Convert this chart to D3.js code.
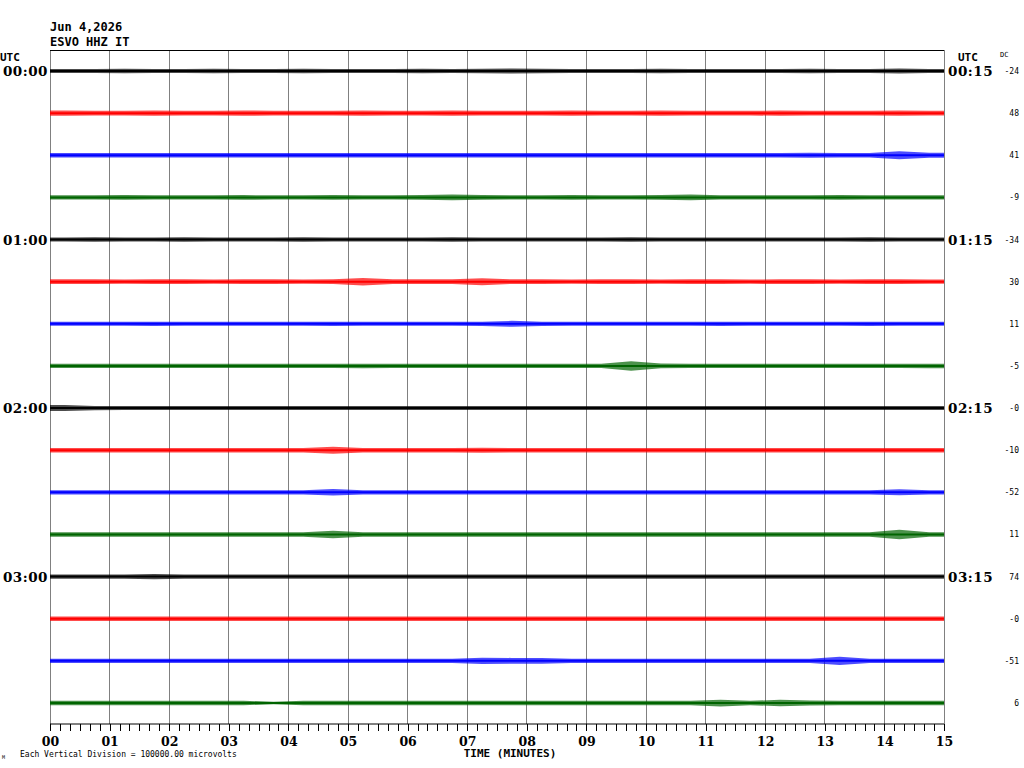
<!DOCTYPE html>
<html>
<head>
<meta charset="utf-8">
<script src="https://cdn.jsdelivr.net/npm/d3@7"></script>
<style>
  body { margin: 0; background: #fff; }
  svg { display: block; }
</style>
</head>
<body>
<div id="graph"></div>
<script>
// header / labels
let dateLabel = "Jun 4,2026";
let stationLabel = "ESVO HHZ IT";
let leftTimes = ["00:00", "01:00", "02:00", "03:00"];
let rightTimes = ["00:15", "01:15", "02:15", "03:15"];
let dcValues = ["-24", "48", "41", "-9", "-34", "30", "11", "-5", "-0", "-10", "-52", "11", "74", "-0", "-51", "6"];
let minuteLabels = ["00", "01", "02", "03", "04", "05", "06", "07", "08", "09", "10", "11", "12", "13", "14", "15"];
let traceColors = ["#000000", "#ff0000", "#0000ff", "#006400"];

// envelope amplitude of each trace, one value per 30 s
let amp00 = [1.5,1.5,1.6,1.5,1.5,1.6,1.5,1.5,1.6,1.5,1.5,1.5,1.6,1.5,1.6,1.8,1.7,1.5,1.5,1.5,1.6,1.5,1.5,1.5,1.5,1.6,1.5,1.5,1.8,1.5];
let amp01 = [1.9,1.8,1.8,1.9,1.8,1.8,1.9,1.8,1.8,1.8,1.9,1.8,1.8,1.9,1.8,1.8,1.8,1.9,1.8,1.8,1.9,1.8,1.8,1.8,1.9,1.8,1.8,1.8,1.9,1.8];
let amp02 = [1.7,1.6,1.7,1.6,1.6,1.7,1.6,1.6,1.7,1.6,1.6,1.6,1.7,1.6,1.6,1.7,1.6,1.6,1.7,1.6,1.6,1.6,1.7,1.6,1.7,1.9,1.6,1.7,3.0,1.8];
let amp03 = [1.6,1.6,1.7,1.6,1.6,1.6,1.7,1.6,1.6,1.7,1.6,1.6,1.7,2.2,1.7,1.6,1.6,1.7,1.6,1.6,1.7,2.2,1.6,1.6,1.6,1.6,1.7,1.6,1.6,1.6];
let amp04 = [1.5,1.6,1.5,1.5,1.6,1.5,1.5,1.5,1.6,1.5,1.5,1.5,1.5,1.6,1.5,1.5,1.5,1.5,1.5,1.6,1.5,1.5,1.5,1.5,1.5,1.5,1.5,1.6,1.5,1.5];
let amp05 = [1.7,1.7,1.6,1.7,1.7,1.6,1.7,1.7,1.6,1.7,2.8,1.7,1.7,1.7,2.6,1.7,1.7,1.6,1.7,1.7,1.6,1.7,1.7,1.6,1.7,1.7,1.6,1.7,1.7,1.6];
let amp06 = [1.5,1.5,1.5,1.6,1.5,1.5,1.5,1.5,1.5,1.6,1.5,1.5,1.5,1.5,1.6,2.2,1.6,1.5,1.5,1.5,1.5,1.5,1.6,1.5,1.5,1.5,1.5,1.6,1.5,1.5];
let amp07 = [1.6,1.6,1.6,1.6,1.6,1.6,1.6,1.6,1.6,1.6,1.7,1.6,1.6,1.6,1.6,1.6,1.6,1.6,1.6,3.5,1.8,1.6,1.6,1.6,1.6,1.6,1.6,1.6,1.6,1.7];
let amp08 = [2.2,1.6,1.5,1.5,1.5,1.5,1.5,1.5,1.5,1.5,1.5,1.5,1.5,1.5,1.5,1.5,1.5,1.5,1.5,1.5,1.5,1.5,1.5,1.5,1.5,1.5,1.5,1.5,1.5,1.5];
let amp09 = [1.7,1.7,1.7,1.7,1.7,1.7,1.7,1.7,1.7,2.6,1.7,1.7,1.7,1.7,1.8,1.7,1.7,1.7,1.7,1.7,1.7,1.7,1.7,1.7,1.7,1.7,1.7,1.7,1.7,1.7];
let amp10 = [1.6,1.6,1.6,1.6,1.6,1.6,1.6,1.6,1.6,2.4,1.6,1.6,1.6,1.6,1.6,1.6,1.6,1.6,1.6,1.6,1.6,1.6,1.6,1.6,1.6,1.6,1.6,1.6,2.2,1.6];
let amp11 = [1.6,1.6,1.6,1.6,1.6,1.6,1.6,1.6,1.6,2.8,1.6,1.6,1.6,1.6,1.6,1.6,1.6,1.6,1.6,1.7,1.6,1.6,1.6,1.6,1.6,1.6,1.6,1.6,3.5,1.6];
let amp12 = [1.6,1.6,1.6,2.0,1.6,1.6,1.6,1.6,1.6,1.6,1.6,1.6,1.6,1.6,1.6,1.6,1.6,1.6,1.6,1.6,1.6,1.6,1.6,1.6,1.6,1.6,1.6,1.6,1.6,1.6];
let amp13 = [1.7,1.7,1.7,1.7,1.7,1.7,1.7,1.7,1.7,1.7,1.7,1.7,1.7,1.7,1.7,1.7,1.7,1.7,1.7,1.7,1.7,1.7,1.7,1.7,1.7,1.7,1.7,1.7,1.7,1.7];
let amp14 = [1.6,1.6,1.6,1.6,1.6,1.6,1.6,1.6,1.6,1.6,1.6,1.6,1.6,1.6,2.4,2.2,2.2,1.6,1.6,1.6,1.6,1.6,1.6,1.6,1.6,1.6,3.0,1.6,1.6,1.6];
let amp15 = [1.6,1.6,1.6,1.6,1.6,1.6,1.6,1.0,1.6,1.6,1.6,1.6,1.6,1.6,1.6,1.6,1.6,1.6,1.6,1.6,1.6,1.6,2.5,1.6,2.4,1.8,1.6,1.6,1.6,1.6];
let traces = [amp00, amp01, amp02, amp03, amp04, amp05, amp06, amp07, amp08, amp09, amp10, amp11, amp12, amp13, amp14, amp15];

let svgWidth = 1024, svgHeight = 768;
let plotLeft = 50, plotRight = 944, plotTop = 50, plotBottom = 724;

let xScale = d3.scaleLinear().domain([0, 15]).range([plotLeft, plotRight]);
let yScale = d3.scaleLinear().domain([0, 15]).range([71, 703]);
// amplitude units -> pixels
let ampScale = d3.scaleLinear().domain([0, 1]).range([0, 1.35]);

let svg = d3.select("#graph").append("svg")
  .attr("width", svgWidth)
  .attr("height", svgHeight);

let monoBold = "'DejaVu Sans Mono', 'Liberation Mono', monospace";
let serifBold = "'DejaVu Serif', 'Liberation Serif', serif";

// header
svg.append("text").attr("x", 50).attr("y", 31)
  .style("font-family", monoBold).style("font-weight", "bold").style("font-size", "12px")
  .text(dateLabel);
svg.append("text").attr("x", 50).attr("y", 46)
  .style("font-family", monoBold).style("font-weight", "bold").style("font-size", "12px")
  .text(stationLabel);

// vertical minute grid
svg.append("g").selectAll("line")
  .data(d3.range(0, 16))
  .enter().append("line")
  .attr("x1", d => xScale(d)).attr("x2", d => xScale(d))
  .attr("y1", plotTop).attr("y2", plotBottom)
  .attr("stroke", "#808080").attr("stroke-width", 1)
  .attr("shape-rendering", "crispEdges");

// top border
svg.append("line")
  .attr("x1", plotLeft).attr("x2", plotRight)
  .attr("y1", plotTop).attr("y2", plotTop)
  .attr("stroke", "#000").attr("shape-rendering", "crispEdges");

// traces
let area = d3.area()
  .x(d => xScale(d[0]))
  .y0(d => d[2] - ampScale(d[1]))
  .y1(d => d[2] + ampScale(d[1]));

traces.forEach(function (amps, i) {
  let cy = yScale(i);
  let pts = amps.map((a, k) => [k * 0.5 + 0.25, a, cy]);
  pts.unshift([0, amps[0], cy]);
  pts.push([15, amps[amps.length - 1], cy]);
  let col = traceColors[i % 4];
  svg.append("path")
    .datum(pts)
    .attr("d", area)
    .attr("fill", col)
    .attr("fill-opacity", 0.7);
  svg.append("line")
    .attr("x1", xScale(0)).attr("x2", xScale(15))
    .attr("y1", cy).attr("y2", cy)
    .attr("stroke", col).attr("stroke-width", 2);
});

// left / right time labels
svg.append("text").attr("x", 0).attr("y", 61)
  .style("font-family", monoBold).style("font-weight", "bold").style("font-size", "11px")
  .text("UTC");
svg.append("text").attr("x", 958).attr("y", 61)
  .style("font-family", monoBold).style("font-weight", "bold").style("font-size", "11px")
  .text("UTC");
svg.append("text").attr("x", 1000).attr("y", 57)
  .style("font-family", monoBold).style("font-size", "7px")
  .text("DC");

leftTimes.forEach(function (t, j) {
  svg.append("text")
    .attr("x", 48).attr("y", yScale(j * 4) + 5)
    .attr("text-anchor", "end")
    .style("font-family", serifBold).style("font-weight", "bold").style("font-size", "13.5px")
    .style("letter-spacing", "0.5px")
    .text(t);
});
rightTimes.forEach(function (t, j) {
  svg.append("text")
    .attr("x", 948).attr("y", yScale(j * 4) + 5)
    .style("font-family", serifBold).style("font-weight", "bold").style("font-size", "13.5px")
    .style("letter-spacing", "0.5px")
    .text(t);
});

dcValues.forEach(function (v, i) {
  svg.append("text")
    .attr("x", 1019).attr("y", yScale(i) + 3)
    .attr("text-anchor", "end")
    .style("font-family", monoBold).style("font-size", "8px")
    .text(v);
});

// bottom time axis
let minorAxis = d3.axisBottom(xScale)
  .tickValues(d3.range(0, 91).map(k => k / 6))
  .tickSize(7)
  .tickFormat("");
let axisG = svg.append("g")
  .attr("transform", `translate(0, ${plotBottom})`)
  .call(minorAxis);
axisG.select(".domain").attr("d", `M${plotLeft},0H${plotRight}`).attr("stroke", "#000");
axisG.selectAll(".tick line").attr("stroke", "#000").attr("shape-rendering", "crispEdges");

let majorAxis = d3.axisBottom(xScale)
  .tickValues(d3.range(0, 16))
  .tickSize(0)
  .tickPadding(0)
  .tickFormat((d, i) => minuteLabels[i]);
let majorG = svg.append("g")
  .attr("transform", `translate(0, ${plotBottom})`)
  .call(majorAxis);
majorG.select(".domain").remove();
majorG.selectAll("text")
  .attr("y", 22).attr("dy", null)
  .style("font-family", serifBold).style("font-weight", "bold").style("font-size", "12.5px")
  .attr("fill", "#000");

svg.append("text").attr("x", 510).attr("y", 757)
  .attr("text-anchor", "middle")
  .style("font-family", monoBold).style("font-weight", "bold").style("font-size", "11px")
  .text("TIME (MINUTES)");
svg.append("text").attr("x", 20).attr("y", 757)
  .style("font-family", monoBold).style("font-size", "8px")
  .text("Each Vertical Division = 100000.00 microvolts");
svg.append("text").attr("x", 2).attr("y", 759)
  .style("font-family", monoBold).style("font-size", "5px")
  .text("M");
</script>
</body>
</html>
